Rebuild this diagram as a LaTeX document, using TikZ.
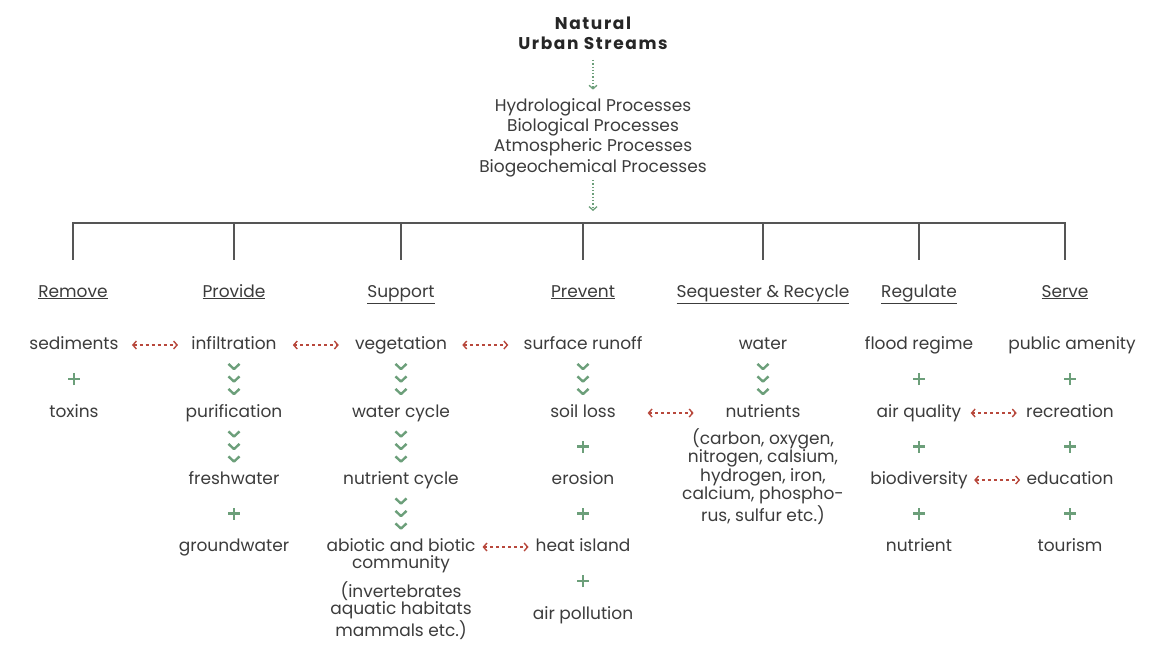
\documentclass[tikz,border=0pt]{standalone}
\usepackage{fontspec}
\setmainfont{Poppins}
\newfontfamily\titlefont{Poppins}[LetterSpace=9.5]
\usetikzlibrary{positioning,calc,arrows.meta}
\definecolor{ink}{HTML}{3C3C3C}
\definecolor{leaf}{HTML}{6C9F7A}
\definecolor{rust}{HTML}{B8483C}
\definecolor{stem}{HTML}{555555}
\tikzset{
  pics/chevs/.style={code={\foreach \k in {-12.5,0,12.5} \draw[leaf, line width=2.4pt, line join=round] (-5.5,\k+2.6) -- (0,\k-2.6) -- (5.5,\k+2.6);}},
  pics/andsign/.style={code={\draw[leaf, line width=2.4pt] (-6,0) -- (6,0) (0,-6) -- (0,6);}}
}
\begin{document}
\begin{tikzpicture}[x=1pt, y=1pt,
  every node/.style={text=ink, font=\fontsize{17}{20.3}\selectfont},
  item/.style={anchor=base, text height=12pt, text depth=4pt},
  note/.style={anchor=base, align=center, font=\fontsize{17}{17}\selectfont},
  tree/.style={stem, line width=1.4pt},
  flow/.style={leaf, line width=1.3pt, dotted, -{Straight Barb[length=3.5pt, width=8pt]}},
  link/.style={rust, line width=1.4pt, dash pattern=on 3pt off 3pt,
    {Straight Barb[length=3.5pt, width=8pt]}-{Straight Barb[length=3.5pt, width=8pt]},
    to path={($(\tikztostart.east |- \tikztotarget.west)!.5!(\tikztotarget.west)!23pt!(\tikztostart.east |- \tikztotarget.west)$) -- ($(\tikztostart.east |- \tikztotarget.west)!.5!(\tikztotarget.west)!23pt!(\tikztotarget.west)$)}}]
\useasboundingbox[fill=white] (0,0) rectangle (1154,-646);
\node[note, text=black!85, font=\titlefont\bfseries\fontsize{17}{20}\selectfont] (stream) at (593,-49.3) {Natural\\Urban Streams};
\node[note, font=\fontsize{17}{20.3}\selectfont] (procs) at (593,-172) {Hydrological Processes\\Biological Processes\\Atmospheric Processes\\Biogeochemical Processes};
\coordinate (hub) at (593,-223);
\node[item] (remove) at (73,-297) {\underline{Remove}};
\node[item] (provide) at (234,-297) {\underline{Provide}};
\node[item] (support) at (401,-297) {\underline{Support}};
\node[item] (prevent) at (583,-297) {\underline{Prevent}};
\node[item] (sequester) at (763,-297) {\underline{Sequester \& Recycle}};
\node[item] (regulate) at (919,-297) {\underline{Regulate}};
\node[item] (serve) at (1065,-297) {\underline{Serve}};
\node[item] (sed) at (74,-349) {sediments};
\node[item] (tox) at (74,-417) {toxins};
\node[item] (inf) at (234,-349) {infiltration};
\node[item] (pur) at (234,-417) {purification};
\node[item] (fresh) at (234,-484) {freshwater};
\node[item] (ground) at (234,-551) {groundwater};
\node[item] (veg) at (401,-349) {vegetation};
\node[item] (wcycle) at (401,-417) {water cycle};
\node[item] (ncycle) at (401,-484) {nutrient cycle};
\node[note] (abiotic) at (401,-568) {abiotic and biotic\\community};
\node[note] (fauna) at (401,-636) {(invertebrates\\aquatic habitats\\mammals etc.)};
\node[item] (runoff) at (583,-349) {surface runoff};
\node[item] (soil) at (583,-417) {soil loss};
\node[item] (erosion) at (583,-484) {erosion};
\node[item] (heat) at (583,-551) {heat island};
\node[item] (airpol) at (583,-619) {air pollution};
\node[item] (water) at (763,-349) {water};
\node[item] (nutr) at (763,-417) {nutrients};
\node[note] (elements) at (763,-521) {(carbon, oxygen,\\nitrogen, calsium,\\hydrogen, iron,\\calcium, phospho-\\rus, sulfur etc.)};
\node[item] (flood) at (919,-349) {flood regime};
\node[item] (airq) at (919,-417) {air quality};
\node[item] (biodiv) at (919,-484) {biodiversity};
\node[item] (nutrient) at (919,-551) {nutrient};
\node[item] (amenity) at (1072,-349) {public amenity};
\node[item] (recr) at (1070,-417) {recreation};
\node[item] (edu) at (1070,-484) {education};
\node[item] (tour) at (1070,-551) {tourism};
\draw[flow, shorten <=7pt, shorten >=5pt] (stream) -- (procs);
\draw[flow, shorten >=12pt] (procs) -- (hub);
\draw[tree, shorten >=21pt] (hub) -| (remove);
\draw[tree, shorten >=21pt] (hub) -| (provide);
\draw[tree, shorten >=21pt] (hub) -| (support);
\draw[tree, shorten >=21pt] (hub) -| (prevent);
\draw[tree, shorten >=21pt] (hub) -| (sequester);
\draw[tree, shorten >=21pt] (hub) -| (regulate);
\draw[tree, shorten >=21pt] (hub) -| (serve);
\pic at ($(sed)!.5!(tox)$) {andsign};
\pic at ($(inf)!.5!(pur)$) {chevs};
\pic at ($(pur)!.5!(fresh)$) {chevs};
\pic at ($(fresh)!.5!(ground)$) {andsign};
\pic at ($(veg)!.5!(wcycle)$) {chevs};
\pic at ($(wcycle)!.5!(ncycle)$) {chevs};
\pic at ($(ncycle)!.5!(ncycle |- heat)$) {chevs};
\pic at ($(runoff)!.5!(soil)$) {chevs};
\pic at ($(soil)!.5!(erosion)$) {andsign};
\pic at ($(erosion)!.5!(heat)$) {andsign};
\pic at ($(heat)!.5!(airpol)$) {andsign};
\pic at ($(water)!.5!(nutr)$) {chevs};
\pic at ($(flood)!.5!(airq)$) {andsign};
\pic at ($(airq)!.5!(biodiv)$) {andsign};
\pic at ($(biodiv)!.5!(nutrient)$) {andsign};
\pic at ($(recr |- amenity)!.5!(recr)$) {andsign};
\pic at ($(recr)!.5!(edu)$) {andsign};
\pic at ($(edu)!.5!(tour)$) {andsign};
\draw[link] (sed) to (inf);
\draw[link] (inf) to (veg);
\draw[link] (veg) to (runoff);
\draw[link] (soil) to (nutr);
\draw[link] (abiotic) to (heat);
\draw[link] (airq) to (recr);
\draw[link] (biodiv) to (edu);
\end{tikzpicture}
\end{document}
